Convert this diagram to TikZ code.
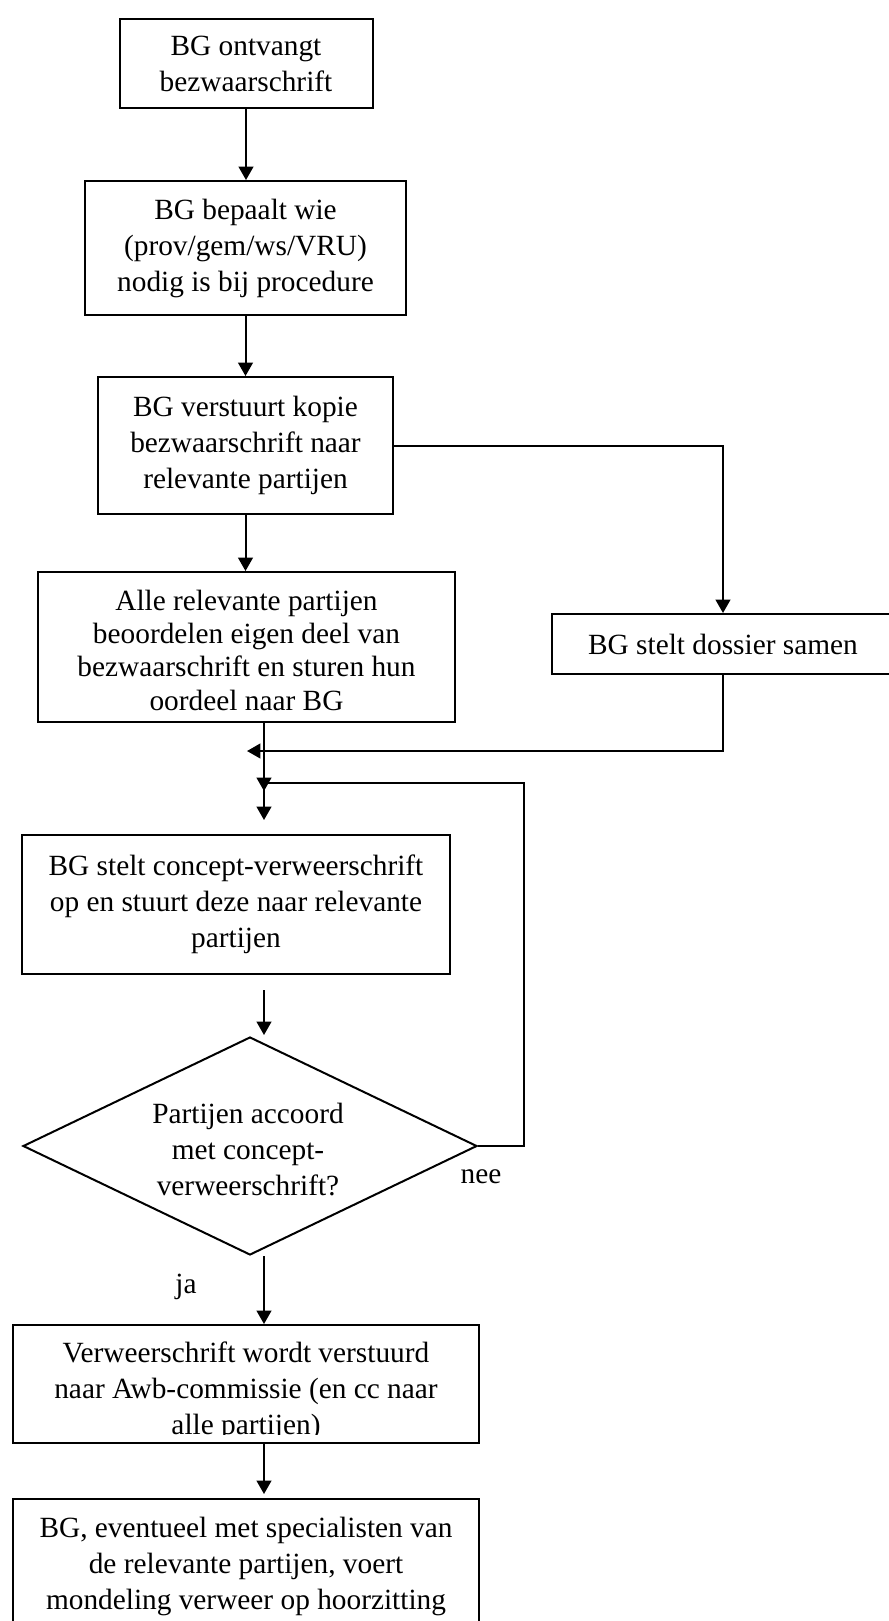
\documentclass[tikz,border=0pt]{standalone}
\usepackage{fontspec}
\setmainfont{Liberation Serif}
\usetikzlibrary{arrows.meta,shapes.geometric}
\begin{document}
\begin{tikzpicture}[x=0.75pt,y=-0.75pt,
  every node/.style={font=\fontsize{22pt}{27pt}\selectfont},
  box/.style={draw, line width=1.5pt, inner sep=0pt, align=center},
  diabox/.style={draw, diamond, line width=1.5pt, inner sep=0pt},
  txt/.style={align=center, inner sep=0pt},
  conn/.style={line width=1.5pt},
  arr/.style={conn, -{Triangle[length=10pt,width=11pt]}}]
\useasboundingbox (0,0) rectangle (889,1621);
\clip (0,0) rectangle (889,1621);

\node[box, minimum width=189.75pt, minimum height=66.75pt] (b1) at (246,63.5) {BG ontvangt\\bezwaarschrift};
\node[box, minimum width=240.75pt, minimum height=100.5pt] (b2) at (245.5,248) {BG bepaalt wie\\(prov/gem/ws/VRU)\\nodig is bij procedure};
\node[box, minimum width=221.25pt, minimum height=102.75pt] (b3) at (245.5,445.5) {BG verstuurt kopie\\bezwaarschrift naar\\relevante partijen};
\node[box, minimum width=312.75pt, minimum height=112.5pt] (b4) at (246.5,647) {};
\node[txt, font=\fontsize{22pt}{25pt}\selectfont] (b4t) at (246.5,650) {Alle relevante partijen\\beoordelen eigen deel van\\bezwaarschrift en sturen hun\\oordeel naar BG};
\node[box, minimum width=256.5pt, minimum height=45pt] (rb) at (723,644) {BG stelt dossier samen};
\node[box, minimum width=321pt, minimum height=104.25pt] (b5) at (236,904.5) {BG stelt concept-verweerschrift\\op en stuurt deze naar relevante\\partijen};
\node[diabox, minimum width=340.5pt, minimum height=163.5pt] (dia) at (250,1146) {};
\node[txt] (diat) at (248,1150) {Partijen accoord\\met concept-\\verweerschrift?};
\node[box, minimum width=349.5pt, minimum height=88.5pt] (b6) at (246,1384) {};
\begin{scope}
  \clip (13,1325) rectangle (479,1434);
  \node[txt] (b6t) at (246,1391) {Verweerschrift wordt verstuurd\\naar Awb-commissie (en cc naar\\alle partijen)};
\end{scope}
\node[box, minimum width=349.5pt, minimum height=100.5pt] (b7) at (246,1566) {BG, eventueel met specialisten van\\de relevante partijen, voert\\mondeling verweer op hoorzitting};
\node[txt] (nee) at (481,1177) {nee};
\node[txt] (ja) at (186,1287) {ja};

\coordinate (trunk) at (264,0);
\coordinate (mergetip) at (247,751);
\coordinate (loopc) at (524,783);
\coordinate (looptip) at (264,791);
\coordinate (t5) at (264,820);
\coordinate (s6) at (264,990);
\coordinate (t6) at (264,1035);
\coordinate (t7) at (264,1494);

\draw[arr] (b1.south) -- (b1.south |- b2.north);
\draw[arr] (b2.south) -- (b2.south |- b3.north);
\draw[arr] (b3.south) -- (b3.south |- b4.north);
\draw[arr] (b3.east) -| (rb.north);
\draw[arr] (rb.south) |- (mergetip);
\draw[arr] (b4.south -| trunk) -- (t5);
\draw[arr] (dia.east) -| (loopc) -| (looptip);
\draw[arr] (s6) -- (t6);
\draw[arr] (dia.south -| trunk) -- (b6.north -| trunk);
\draw[arr] (b6.south -| trunk) -- (t7);
\end{tikzpicture}
\end{document}
